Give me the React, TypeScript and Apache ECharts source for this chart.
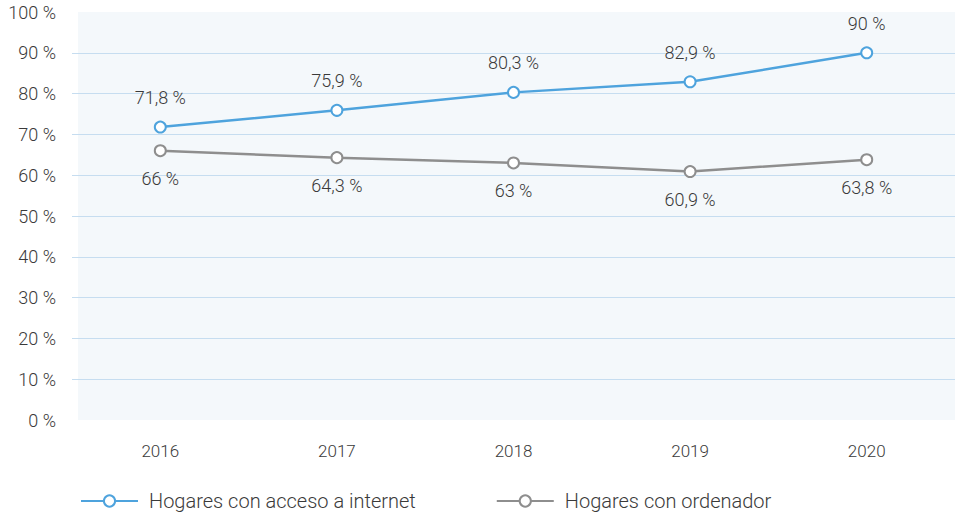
import React, { useEffect, useRef } from "react";
import * as echarts from "echarts";

const years = ["2016", "2017", "2018", "2019", "2020"];
const internet = [71.8, 75.9, 80.3, 82.9, 90];
const ordenador = [66, 64.3, 63, 60.9, 63.8];
const seriesNames = ["Hogares con acceso a internet", "Hogares con ordenador"];

const FONT = "Roboto";
const TXT = "#3a3a3a";
const GRID = "#c6ddf0";
const fmt = (v: number) => String(v).replace(".", ",") + " %";

export default function App() {
  const ref = useRef<HTMLDivElement>(null);
  useEffect(() => {
    const chart = echarts.init(ref.current!, null, { renderer: "svg" });
    chart.setOption({
      animation: false,
      textStyle: { fontFamily: FONT },
      graphic: [
        {
          type: "rect",
          z: -10,
          shape: { x: 78, y: 12, width: 877, height: 408 },
          style: { fill: "#f4f8fb" },
          silent: true,
        },
      ],
      grid: { left: 72, top: 12, width: 887, height: 408 },
      xAxis: {
        type: "category",
        data: years,
        boundaryGap: true,
        axisLine: { show: false },
        axisTick: { show: false },
        axisLabel: { color: TXT, fontSize: 17, fontWeight: 300, margin: 22, fontFamily: FONT },
      },
      yAxis: {
        type: "value",
        min: 0,
        max: 100,
        interval: 10,
        axisLine: { show: false },
        axisTick: { show: false },
        axisLabel: {
          color: TXT,
          fontSize: 18,
          fontWeight: 300,
          margin: 16,
          fontFamily: FONT,
          formatter: (v: number) => v + " %",
        },
        splitLine: {
          lineStyle: {
            color: ["transparent", GRID, GRID, GRID, GRID, GRID, GRID, GRID, GRID, GRID, "transparent"],
            width: 1,
          },
        },
      },
      legend: {
        top: 490,
        left: 80,
        padding: 0,
        itemWidth: 57,
        itemHeight: 14,
        itemGap: 80,
        textStyle: {
          color: TXT,
          fontSize: 20,
          lineHeight: 22,
          fontWeight: 300,
          fontFamily: FONT,
          padding: [0, 0, 0, 6],
        },
        data: seriesNames,
      },
      series: [
        {
          name: seriesNames[0],
          type: "line",
          data: internet,
          symbol: "emptyCircle",
          symbolSize: 11,
          lineStyle: { color: "#4ea3dd", width: 2.5 },
          itemStyle: { color: "#4ea3dd", borderWidth: 3, borderColor: "#4ea3dd" },
          label: {
            show: true,
            position: "top",
            distance: 14,
            color: TXT,
            fontSize: 18,
            fontWeight: 300,
            fontFamily: FONT,
            formatter: (p: any) => fmt(p.value),
          },
        },
        {
          name: seriesNames[1],
          type: "line",
          data: ordenador,
          symbol: "emptyCircle",
          symbolSize: 11,
          lineStyle: { color: "#8e8e8e", width: 2.5 },
          itemStyle: { color: "#8e8e8e", borderWidth: 3, borderColor: "#8e8e8e" },
          label: {
            show: true,
            position: "bottom",
            distance: 12,
            color: TXT,
            fontSize: 18,
            fontWeight: 300,
            fontFamily: FONT,
            formatter: (p: any) => fmt(p.value),
          },
        },
      ],
    });
    return () => chart.dispose();
  }, []);
  return <div ref={ref} style={{ width: 955, height: 513, position: "absolute", left: 0, top: 0 }} />;
}
